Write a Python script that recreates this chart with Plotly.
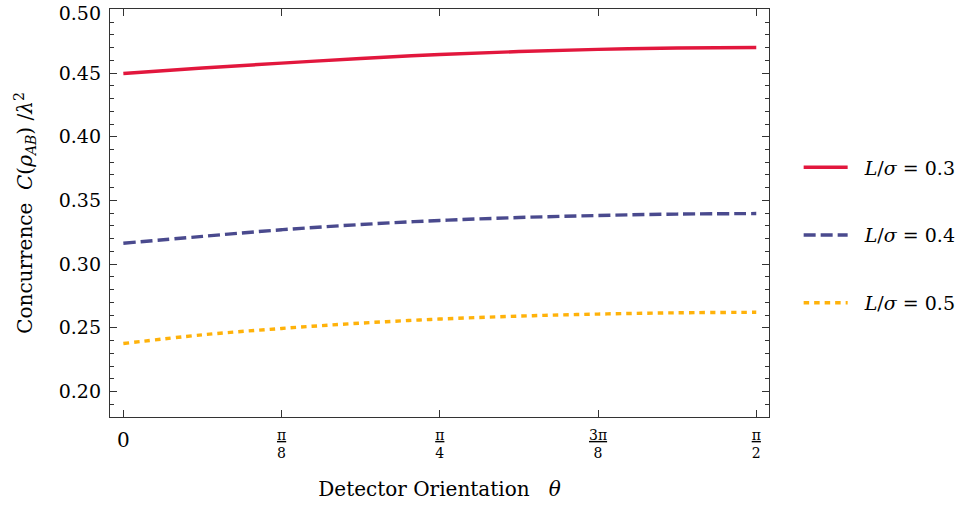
import plotly.graph_objects as go
import numpy as np

theta = [0, np.pi/16, np.pi/8, 3*np.pi/16, np.pi/4, 5*np.pi/16, 3*np.pi/8, 7*np.pi/16, np.pi/2]
c_03 = [0.4497, 0.4540, 0.4578, 0.4614, 0.4646, 0.4669, 0.4686, 0.4697, 0.4701]
c_04 = [0.3164, 0.3218, 0.3270, 0.3311, 0.3343, 0.3366, 0.3382, 0.3393, 0.3397]
c_05 = [0.2377, 0.2445, 0.2495, 0.2537, 0.2569, 0.2592, 0.2608, 0.2618, 0.2622]

series_names = ["\u00a0\u00a0<i>L</i>/<i>σ</i> = 0.3", "\u00a0\u00a0<i>L</i>/<i>σ</i> = 0.4", "\u00a0\u00a0<i>L</i>/<i>σ</i> = 0.5"]
colors = ["#E2173D", "#4A4A8E", "#FFB20A"]
dashes = ["solid", "12px,5px", "5.5px,5px"]

xtick_vals = [0, np.pi/8, np.pi/4, 3*np.pi/8, np.pi/2]
xtick_text = [
    "<span style='font-size:20px;baseline-shift:-7px'>0</span>",
    "<span style='text-decoration:underline'>π</span><br>8",
    "<span style='text-decoration:underline'>π</span><br>4",
    "<span style='text-decoration:underline'>3π</span><br>8",
    "<span style='text-decoration:underline'>π</span><br>2",
]
ytick_vals = [0.20, 0.25, 0.30, 0.35, 0.40, 0.45, 0.50]
ytick_text = ["0.20", "0.25", "0.30", "0.35", "0.40", "0.45",
              "<span style='baseline-shift:-4px'>0.50</span>"]

fig = go.Figure()
for i, ys in enumerate([c_03, c_04, c_05]):
    fig.add_trace(go.Scatter(
        x=theta, y=ys, mode="lines", name=series_names[i],
        line=dict(color=colors[i], width=3.4, dash=dashes[i], shape="spline"),
        legendgroup=f"g{i}",
    ))

font_family = "DejaVu Serif, Liberation Serif, serif"
axis_color = "#333333"

fig.update_layout(
    width=980, height=506,
    margin=dict(l=110, r=211, t=9, b=89, autoexpand=False),
    paper_bgcolor="white", plot_bgcolor="white",
    font=dict(family=font_family, size=19, color="black"),
    showlegend=True,
    legend=dict(
        x=1.045, y=0.445, xanchor="left", yanchor="middle",
        font=dict(size=19, family=font_family),
        tracegroupgap=40, itemwidth=44,
        bgcolor="rgba(0,0,0,0)",
    ),
    xaxis=dict(
        range=[-0.0331, 1.6024], automargin=False,
        tickmode="array", tickvals=xtick_vals, ticktext=xtick_text,
        ticks="inside", ticklen=7, tickwidth=1.2, tickcolor=axis_color,
        ticklabelstandoff=5,
        showline=True, linecolor=axis_color, linewidth=1.3, mirror="allticks",
        showgrid=False, zeroline=False,
        tickfont=dict(size=14, family=font_family),
        title=dict(text="Detector Orientation\u00a0\u00a0\u00a0<i>θ</i>", font=dict(size=20), standoff=21),
    ),
    yaxis=dict(
        range=[0.18, 0.5003], automargin=False,
        tickmode="array", tickvals=ytick_vals, ticktext=ytick_text,
        ticklabeloverflow="allow", ticklabelstandoff=4,
        ticks="inside", ticklen=7, tickwidth=1.2, tickcolor=axis_color,
        minor=dict(dtick=0.01, ticks="inside", ticklen=4, tickwidth=1.1, tickcolor=axis_color, showgrid=False),
        showline=True, linecolor=axis_color, linewidth=1.3, mirror="allticks",
        showgrid=False, zeroline=False,
        tickfont=dict(size=19, family=font_family),
        title=dict(text="Concurrence\u00a0\u00a0<i>C</i>(<i>ρ</i><sub><i>AB</i></sub>)\u00a0/<i>λ</i><sup>2</sup>", font=dict(size=20), standoff=20),
    ),
)

fig.write_html("out.html")
